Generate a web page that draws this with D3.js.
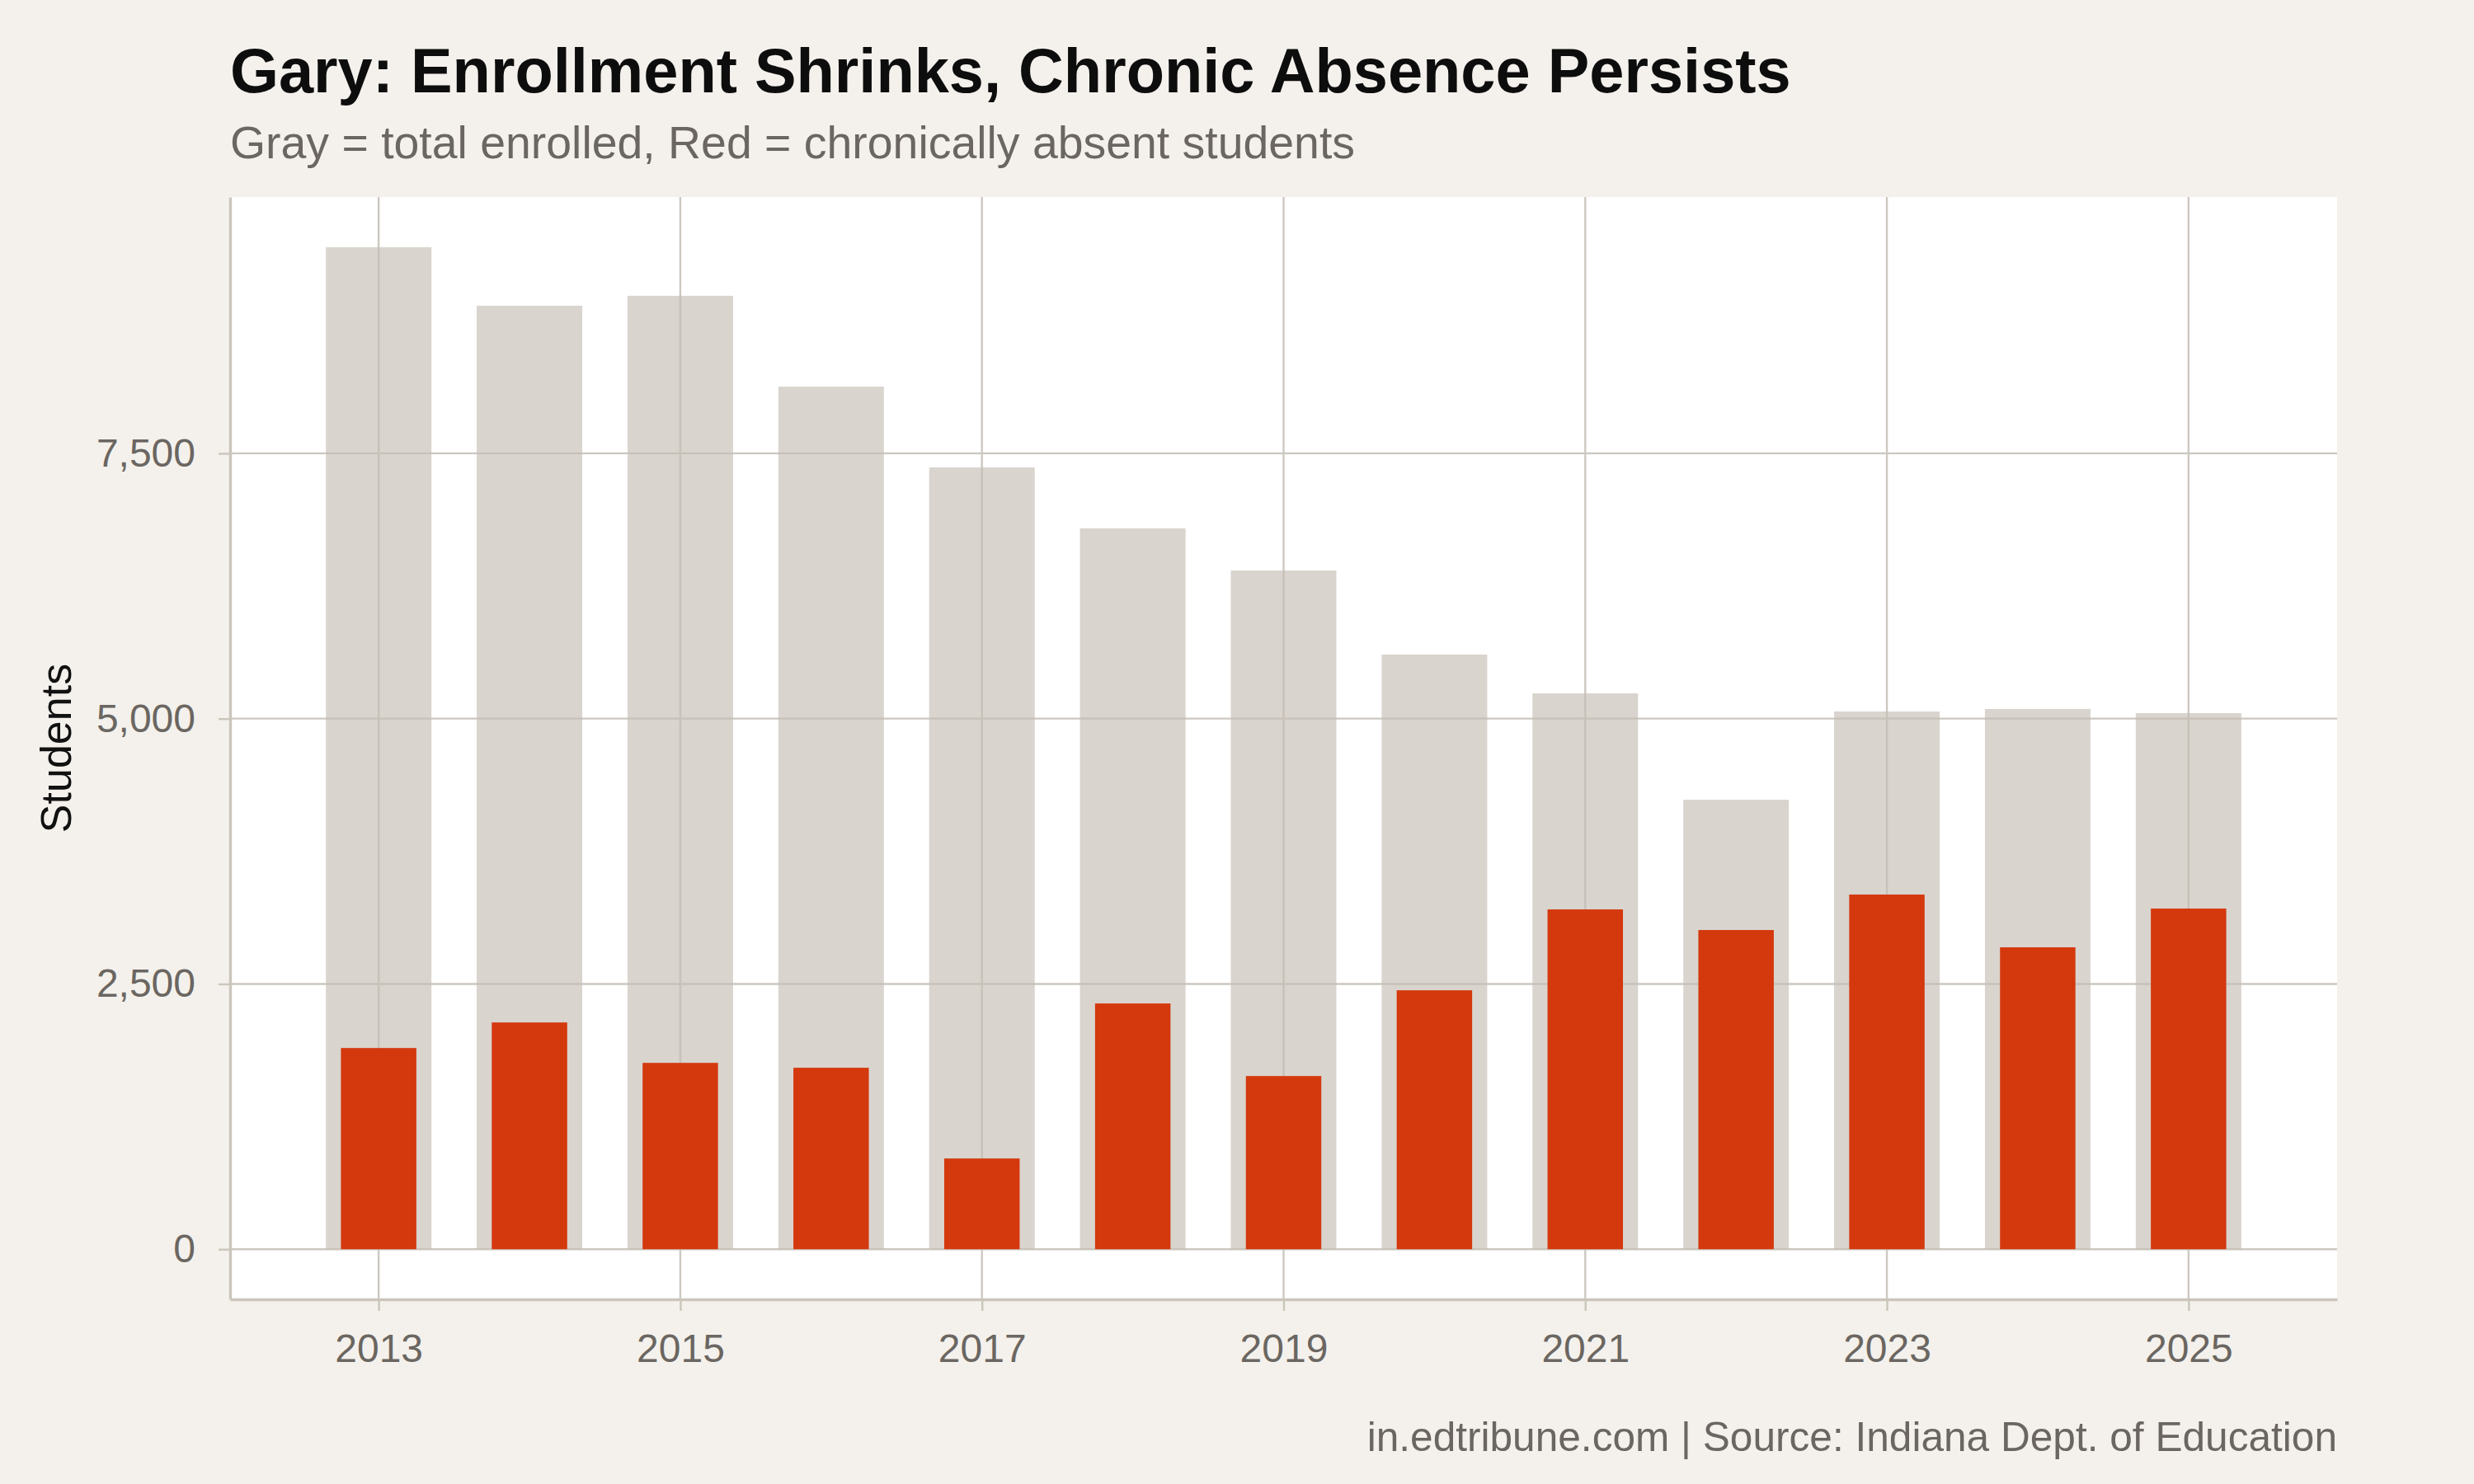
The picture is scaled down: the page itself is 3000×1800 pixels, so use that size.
<!DOCTYPE html>
<html>
<head>
<meta charset="utf-8">
<script src="https://cdn.jsdelivr.net/npm/d3@7"></script>
<style>
  html, body { margin: 0; padding: 0; background: #f4f1ec; }
  svg { display: block; }
  text { font-family: "Liberation Sans", Arial, Helvetica, sans-serif; }
</style>
</head>
<body>
<div id="chart"></div>
<script>
// data
const years = [2013, 2014, 2015, 2016, 2017, 2018, 2019, 2020, 2021, 2022, 2023, 2024, 2025];
const enrolled = [9443, 8891, 8984, 8129, 7368, 6793, 6396, 5604, 5238, 4236, 5067, 5091, 5052];
const chronicAbsent = [1896, 2137, 1756, 1710, 855, 2316, 1632, 2440, 3202, 3008, 3342, 2845, 3210];
const yTicks = [0, 2500, 5000, 7500];
const xTicks = [2013, 2015, 2017, 2019, 2021, 2023, 2025];

const titleText = "Gary: Enrollment Shrinks, Chronic Absence Persists";
const subtitleText = "Gray = total enrolled, Red = chronically absent students";
const captionText = "in.edtribune.com | Source: Indiana Dept. of Education";

const W = 3000, H = 1800;
const panel = {left: 279, right: 2834, top: 239, bottom: 1576};
const grayW = 0.7, redW = 0.5;

const svg = d3.select("#chart").append("svg")
  .attr("width", W)
  .attr("height", H);

svg.append("rect").attr("width", W).attr("height", H).attr("fill", "#f4f1ec");

// ggplot style 5% expansion
const xlo = d3.min(years) - grayW / 2, xhi = d3.max(years) + grayW / 2;
const xpad = (xhi - xlo) * 0.05;
const x = d3.scaleLinear()
  .domain([xlo - xpad, xhi + xpad])
  .range([panel.left, panel.right]);

const ymax = d3.max(enrolled);
const y = d3.scaleLinear()
  .domain([-ymax * 0.05, ymax * 1.05])
  .range([panel.bottom, panel.top]);

svg.append("rect")
  .attr("x", panel.left).attr("y", panel.top)
  .attr("width", panel.right - panel.left)
  .attr("height", panel.bottom - panel.top)
  .attr("fill", "#ffffff");

const gridColor = "#cdc8c0";
const grid = svg.append("g");
grid.selectAll(".gy")
  .data(yTicks)
  .enter().append("line")
  .attr("x1", panel.left).attr("x2", panel.right)
  .attr("y1", d => y(d)).attr("y2", d => y(d))
  .attr("stroke", gridColor).attr("stroke-width", 2.4);
grid.selectAll(".gx")
  .data(xTicks)
  .enter().append("line")
  .attr("x1", d => x(d)).attr("x2", d => x(d))
  .attr("y1", panel.top).attr("y2", panel.bottom)
  .attr("stroke", gridColor).attr("stroke-width", 2.4);

// total enrolled (semi transparent so grid shows through)
svg.append("g").selectAll("rect")
  .data(years)
  .enter().append("rect")
  .attr("x", d => x(d - grayW / 2))
  .attr("width", d => x(d + grayW / 2) - x(d - grayW / 2))
  .attr("y", (d, i) => y(enrolled[i]))
  .attr("height", (d, i) => y(0) - y(enrolled[i]))
  .attr("fill", "rgb(197,189,180)")
  .attr("fill-opacity", 0.65);

// chronically absent
svg.append("g").selectAll("rect")
  .data(years)
  .enter().append("rect")
  .attr("x", d => x(d - redW / 2))
  .attr("width", d => x(d + redW / 2) - x(d - redW / 2))
  .attr("y", (d, i) => y(chronicAbsent[i]))
  .attr("height", (d, i) => y(0) - y(chronicAbsent[i]))
  .attr("fill", "#d4380d");

// axes
const axisColor = "#cbc5bb";
const labelColor = "#6b6661";

const xAxis = svg.append("g")
  .attr("transform", `translate(0,${panel.bottom})`)
  .call(d3.axisBottom(x).tickValues(xTicks).tickFormat(d3.format("d"))
    .tickSize(14).tickSizeOuter(0).tickPadding(28));

const yAxis = svg.append("g")
  .attr("transform", `translate(${panel.left},0)`)
  .call(d3.axisLeft(y).tickValues(yTicks).tickFormat(d3.format(","))
    .tickSize(14).tickSizeOuter(0).tickPadding(28));

[xAxis, yAxis].forEach(a => {
  a.select(".domain").attr("stroke", axisColor).attr("stroke-width", 3.4);
  a.selectAll(".tick line").attr("stroke", axisColor).attr("stroke-width", 2.4);
  a.selectAll(".tick text")
    .attr("fill", labelColor)
    .style("font-size", "48px")
    .style("font-family", '"Liberation Sans", Arial, Helvetica, sans-serif');
});

// y axis title
svg.append("text")
  .attr("transform", `translate(86,${(panel.top + panel.bottom) / 2}) rotate(-90)`)
  .attr("text-anchor", "middle")
  .attr("fill", "#111")
  .style("font-size", "52px")
  .text("Students");

// titles
svg.append("text")
  .attr("x", panel.left).attr("y", 112)
  .attr("fill", "#0d0d0d")
  .style("font-size", "75.8px")
  .style("font-weight", "bold")
  .text(titleText);

svg.append("text")
  .attr("x", panel.left).attr("y", 192)
  .attr("fill", labelColor)
  .style("font-size", "55.4px")
  .text(subtitleText);

svg.append("text")
  .attr("x", panel.right).attr("y", 1760)
  .attr("text-anchor", "end")
  .attr("fill", labelColor)
  .style("font-size", "49.6px")
  .text(captionText);
</script>
</body>
</html>
